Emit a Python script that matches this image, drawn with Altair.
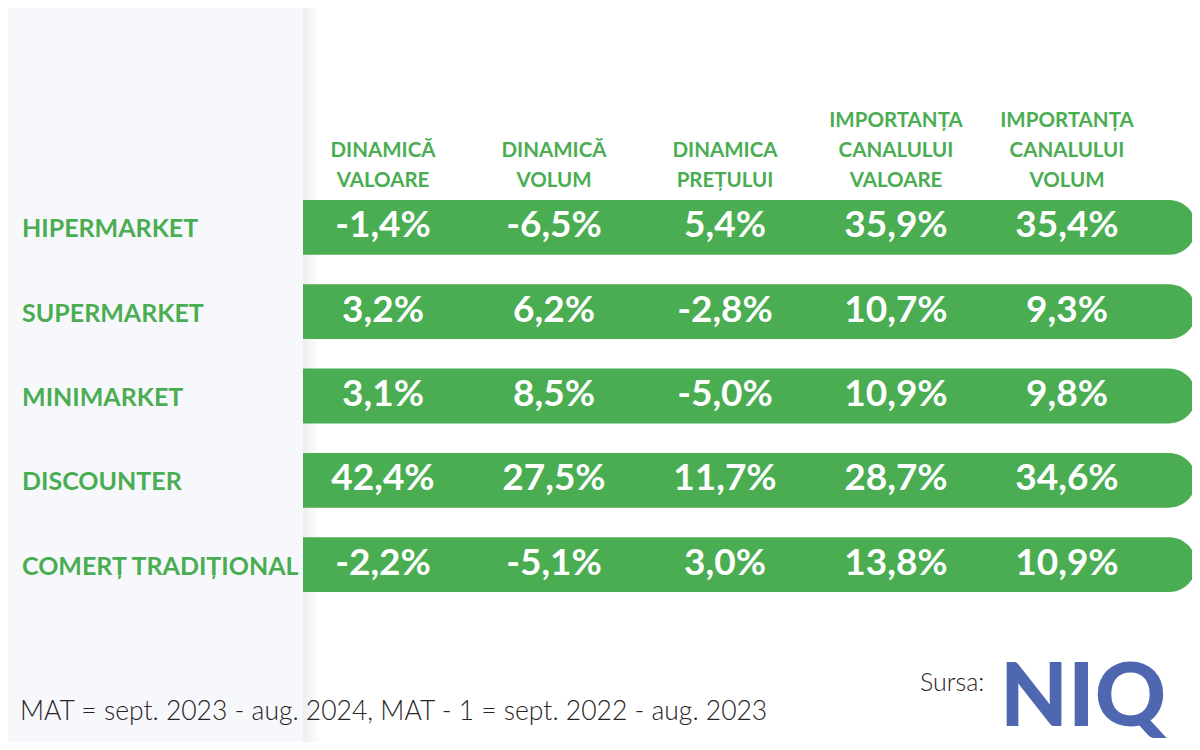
import altair as alt
import pandas as pd

# ---------------- data ----------------
categories = ["HIPERMARKET", "SUPERMARKET", "MINIMARKET", "DISCOUNTER", "COMERȚ TRADIȚIONAL"]
column_keys = ["dv", "dvol", "dp", "icv", "icvol"]
column_headers = [
    ["DINAMICĂ", "VALOARE"],
    ["DINAMICĂ", "VOLUM"],
    ["DINAMICA", "PREȚULUI"],
    ["IMPORTANȚA", "CANALULUI", "VALOARE"],
    ["IMPORTANȚA", "CANALULUI", "VOLUM"],
]
dinamica_valoare = [-1.4, 3.2, 3.1, 42.4, -2.2]
dinamica_volum = [-6.5, 6.2, 8.5, 27.5, -5.1]
dinamica_pretului = [5.4, -2.8, -5.0, 11.7, 3.0]
importanta_valoare = [35.9, 10.7, 10.9, 28.7, 13.8]
importanta_volum = [35.4, 9.3, 9.8, 34.6, 10.9]
series = [dinamica_valoare, dinamica_volum, dinamica_pretului, importanta_valoare, importanta_volum]

footnote = "MAT = sept. 2023 - aug. 2024, MAT - 1 = sept. 2022 - aug. 2023"
source_label = "Sursa:"
source_logo = "NIQ"

# ---------------- tables ----------------
def fmt(v):
    return f"{v:.1f}".replace(".", ",") + "%"

cells = pd.DataFrame(
    [
        {"canal": cat, "col": key, "txt": fmt(vals[i])}
        for key, vals in zip(column_keys, series)
        for i, cat in enumerate(categories)
    ]
)
headers = pd.DataFrame(
    [
        {"col": key, "line": line, "lvl": len(lines) - 1 - j}
        for key, lines in zip(column_keys, column_headers)
        for j, line in enumerate(lines)
    ]
)
rows = pd.DataFrame({"canal": categories})
notes = pd.DataFrame({"t": [footnote]})
src = pd.DataFrame({"t": [source_label]})
logo = pd.DataFrame({"t": [source_logo]})
one = pd.DataFrame({"a": [0]})

GREEN = "#4aad52"
FONT = "Lato"

W, H = 1184, 734

yscale = alt.Scale(type="band", domain=categories, range=[192, 584], paddingInner=0.35, paddingOuter=0)
xscale = alt.Scale(type="point", domain=column_keys, range=[375, 1059], padding=0)

Y = alt.Y("canal:N", scale=yscale, axis=None)
X = alt.X("col:N", scale=xscale, axis=None)

panel = alt.Chart(one).mark_rect(color="#f7f8fc").encode(
    x=alt.value(0), x2=alt.value(295), y=alt.value(0), y2=alt.value(H)
)
shadow = alt.Chart(one).mark_rect(
    color=alt.Gradient(
        gradient="linear",
        stops=[
            alt.GradientStop(color="rgba(0,0,0,0.07)", offset=0),
            alt.GradientStop(color="rgba(0,0,0,0)", offset=1),
        ],
        x1=0, x2=1, y1=0, y2=0,
    )
).encode(x=alt.value(295), x2=alt.value(312), y=alt.value(0), y2=alt.value(H))

bars = alt.Chart(rows).mark_bar(
    color=GREEN, cornerRadiusTopRight=27, cornerRadiusBottomRight=27
).encode(y=Y, x=alt.value(295), x2=alt.value(1188))

labels = alt.Chart(rows).mark_text(
    align="left", baseline="middle", font=FONT, fontWeight=700, fontSize=25, color=GREEN, dy=2
).encode(y=Y, x=alt.value(14), text="canal:N")

values = alt.Chart(cells).mark_text(
    align="center", baseline="middle", font=FONT, fontWeight=700, fontSize=37, color="white", dy=-1
).encode(y=Y, x=X, text="txt:N")

head = alt.Chart(headers).mark_text(
    align="center", baseline="middle", font=FONT, fontWeight=700, fontSize=20.5, color=GREEN
).encode(
    x=X,
    y=alt.Y("lvl:Q", scale=alt.Scale(domain=[0, 2], range=[172.5, 112.5]), axis=None),
    text="line:N",
)

note = alt.Chart(notes).mark_text(
    align="left", baseline="middle", font=FONT, fontWeight=300, fontSize=26.5, color="#2b2424"
).encode(x=alt.value(12), y=alt.value(704), text="t:N")

src_t = alt.Chart(src).mark_text(
    align="left", baseline="middle", font=FONT, fontWeight=300, fontSize=25, color="#2b2424"
).encode(x=alt.value(912), y=alt.value(675), text="t:N")

logo_t = alt.Chart(logo).mark_text(
    align="left", baseline="alphabetic", font=FONT, fontWeight=900, fontSize=88, color="#4f67b1"
).encode(x=alt.value(992), y=alt.value(718), text="t:N")

chart = (
    alt.layer(panel, shadow, bars, labels, values, head, note, src_t, logo_t)
    .resolve_scale(y="independent")
    .properties(
        width=W, height=H, padding=0,
        autosize=alt.AutoSizeParams(type="fit", contains="padding"),
        background="white",
    )
    .configure_view(stroke=None)
)

chart.save("out.html", embed_options={"renderer": "svg", "actions": False})
